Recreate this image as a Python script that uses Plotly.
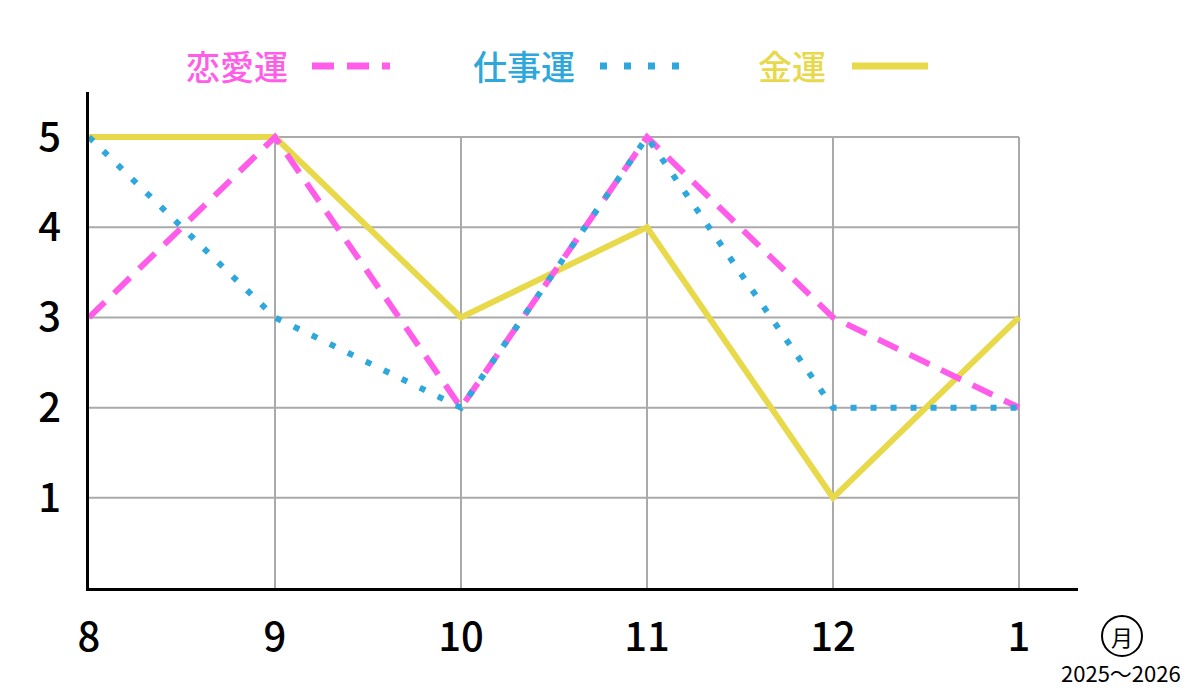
import plotly.graph_objects as go

# month labels (Aug 2025 -> Jan 2026)
months = ["8", "9", "10", "11", "12", "1"]
yTicks = [1, 2, 3, 4, 5]

loveLuck = [3, 5, 2, 5, 3, 2]   # 恋愛運
workLuck = [5, 3, 2, 5, 2, 2]   # 仕事運
moneyLuck = [5, 5, 3, 4, 1, 3]  # 金運

PINK = "#ff5ce9"
BLUE = "#2ea7dc"
YELLOW = "#e8d94a"
FONT = "Noto Sans CJK JP"

W, H = 1200, 693
OFF = 8  # page body margin pushes the figure right/down
L, R, T, B = 89 - OFF, 1078 - OFF, 92 - OFF, 588 - OFF  # plot area in figure pixels


def px(x):
    return (x - OFF - L) / (R - L)


def py(y):
    return (B - (y - OFF)) / (B - T)


xIdx = list(range(len(months)))

fig = go.Figure()

series = [
    ("金運", moneyLuck, YELLOW, "solid"),
    ("恋愛運", loveLuck, PINK, "22px,13px"),
    ("仕事運", workLuck, BLUE, "6px,14px"),
]
for name, vals, color, dash in series:
    fig.add_trace(go.Scatter(
        x=xIdx, y=vals, mode="lines", name=name,
        line=dict(color=color, width=6, dash=dash),
        showlegend=False,
    ))

# grid only inside the 0..5 box
shapes = []
for i in xIdx[1:]:
    shapes.append(dict(type="line", xref="x", yref="y", x0=i, x1=i, y0=0, y1=max(yTicks),
                       line=dict(color="#aaaaaa", width=2), layer="below"))
for v in yTicks:
    shapes.append(dict(type="line", xref="x", yref="y", x0=0, x1=xIdx[-1], y0=v, y1=v,
                       line=dict(color="#aaaaaa", width=2), layer="below"))

# legend: text first, then a line sample
legendItems = [
    ("恋愛運", PINK, "22px,13px", 237, 312, 390),
    ("仕事運", BLUE, "7px,17px", 524, 600, 680),
    ("金運", YELLOW, "solid", 792, 852, 928),
]
annotations = []
for text, color, dash, cx, s0, s1 in legendItems:
    annotations.append(dict(
        text=text, xref="paper", yref="paper", x=px(cx), y=py(66),
        showarrow=False, font=dict(family=FONT, size=34, color=color, weight=500),
        xanchor="center", yanchor="middle",
    ))
    shapes.append(dict(type="line", xref="paper", yref="paper",
                       x0=px(s0), x1=px(s1), y0=py(66), y1=py(66),
                       line=dict(color=color, width=7, dash=dash)))

# unit mark: 月 in a circle, then the year span
shapes.append(dict(type="circle", xref="paper", yref="paper",
                   xsizemode="pixel", ysizemode="pixel",
                   xanchor=px(1122), yanchor=py(636),
                   x0=-20, x1=20, y0=-20, y1=20,
                   line=dict(color="black", width=2)))
annotations.append(dict(
    text="月", xref="paper", yref="paper", x=px(1122), y=py(636),
    showarrow=False, font=dict(family=FONT, size=22, color="black"),
    xanchor="center", yanchor="middle",
))
annotations.append(dict(
    text="2025～2026", xref="paper", yref="paper", x=px(1121), y=py(672),
    showarrow=False, font=dict(family=FONT, size=22, color="black"),
    xanchor="center", yanchor="middle",
))

fig.update_layout(
    width=W, height=H,
    margin=dict(l=L, r=W - R, t=T, b=H - B, pad=0),
    paper_bgcolor="white", plot_bgcolor="white",
    font=dict(family=FONT, color="black"),
    shapes=shapes, annotations=annotations,
    showlegend=False,
)
fig.update_xaxes(
    range=[0, (R - L) / ((1019 - 89) / 5)],
    tickvals=xIdx, ticktext=months,
    showgrid=False, zeroline=False,
    showline=True, linecolor="black", linewidth=3,
    ticks="", ticklabelstandoff=12,
    tickfont=dict(family=FONT, size=40, color="black", weight=500),
)
fig.update_yaxes(
    range=[0, 5.5],
    tickvals=yTicks,
    showgrid=False, zeroline=False,
    showline=True, linecolor="black", linewidth=3,
    ticks="", ticklabelstandoff=17,
    tickfont=dict(family=FONT, size=40, color="black", weight=500),
)

fig.write_html("out.html")
